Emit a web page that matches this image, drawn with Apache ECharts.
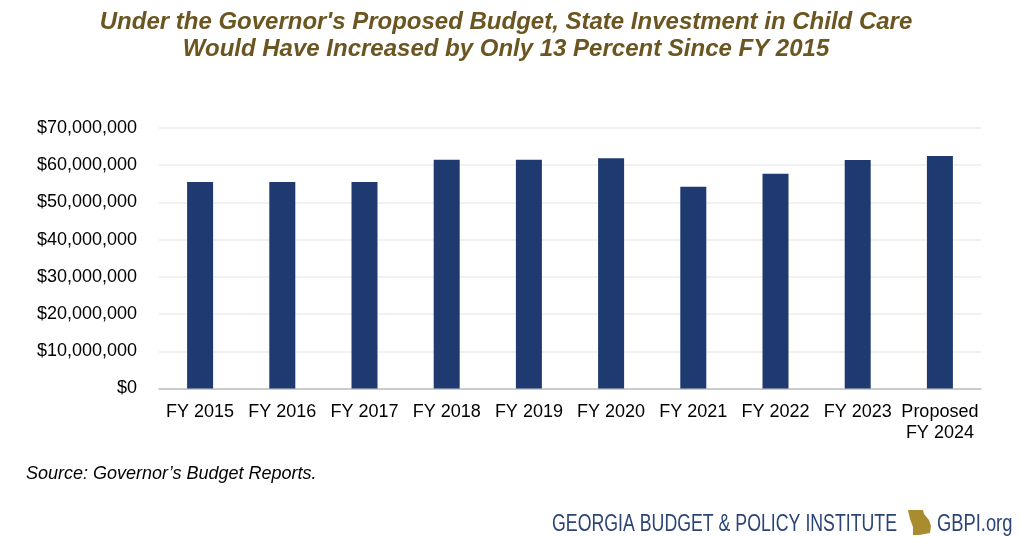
<!DOCTYPE html>
<html><head><meta charset="utf-8">
<style>html,body{margin:0;padding:0;background:#fff}#c{width:1020px;height:537px}</style>
<script src="https://cdn.jsdelivr.net/npm/echarts@6/dist/echarts.min.js"></script>
</head><body><div id="c"></div>
<script>
const categories = ['FY 2015','FY 2016','FY 2017','FY 2018','FY 2019','FY 2020','FY 2021','FY 2022','FY 2023','Proposed\nFY 2024'];
const funding = [55500000,55500000,55500000,61500000,61500000,61900000,54200000,57700000,61400000,62500000];
const titleLines = "Under the Governor's Proposed Budget, State Investment in Child Care\nWould Have Increased by Only 13 Percent Since FY 2015";
const sourceNote = 'Source: Governor\u2019s Budget Reports.';
const font = '"Liberation Sans", Arial, sans-serif';
const chart = echarts.init(document.getElementById('c'), null, {renderer:'canvas'});
chart.setOption({
  animation:false,
  backgroundColor:'#fff',
  grid:{left:159,right:39,top:128,bottom:148.5,containLabel:false},
  xAxis:{type:'category',data:categories,
    axisTick:{show:false},
    axisLine:{lineStyle:{color:'#bfbfbf',width:1.5}},
    axisLabel:{color:'#000',fontFamily:font,fontSize:18,lineHeight:21,margin:13,interval:0}},
  yAxis:{type:'value',min:0,max:70000000,interval:10000000,
    axisLine:{show:false},axisTick:{show:false},
    splitLine:{lineStyle:{color:'#ededed',width:1.5}},
    axisLabel:{color:'#000',fontFamily:font,fontSize:18,margin:22,padding:[4,0,0,0],
      formatter:v=>'$'+v.toLocaleString('en-US')}},
  series:[{type:'bar',data:funding,barWidth:26,itemStyle:{color:'#1f3a70'}}],
  graphic:[
    {type:'text',x:506,y:9,style:{x:0,y:0,text:titleLines,fill:'#6b5520',font:'italic bold 24px '+font,lineHeight:27,align:'center'}},
    {type:'text',x:26,y:465,style:{x:0,y:0,text:sourceNote,fill:'#000',font:'italic 18px '+font}},
    {type:'text',x:552,y:513,scaleX:0.755,originX:0,style:{x:0,y:0,text:'GEORGIA BUDGET & POLICY INSTITUTE',fill:'#2b4478',font:'23.5px '+font}},
    {type:'text',x:937,y:513,scaleX:0.78,originX:0,style:{x:0,y:0,text:'GBPI.org',fill:'#2b4478',font:'23.5px '+font}},
    {type:'polygon',shape:{points:[[908,510],[923,510],[924,514],[929,520],[931,526],[930,533],[919,535],[913,535],[913,527],[910,519]]},style:{fill:'#a98c2d'}}
  ]
});
</script></body></html>
